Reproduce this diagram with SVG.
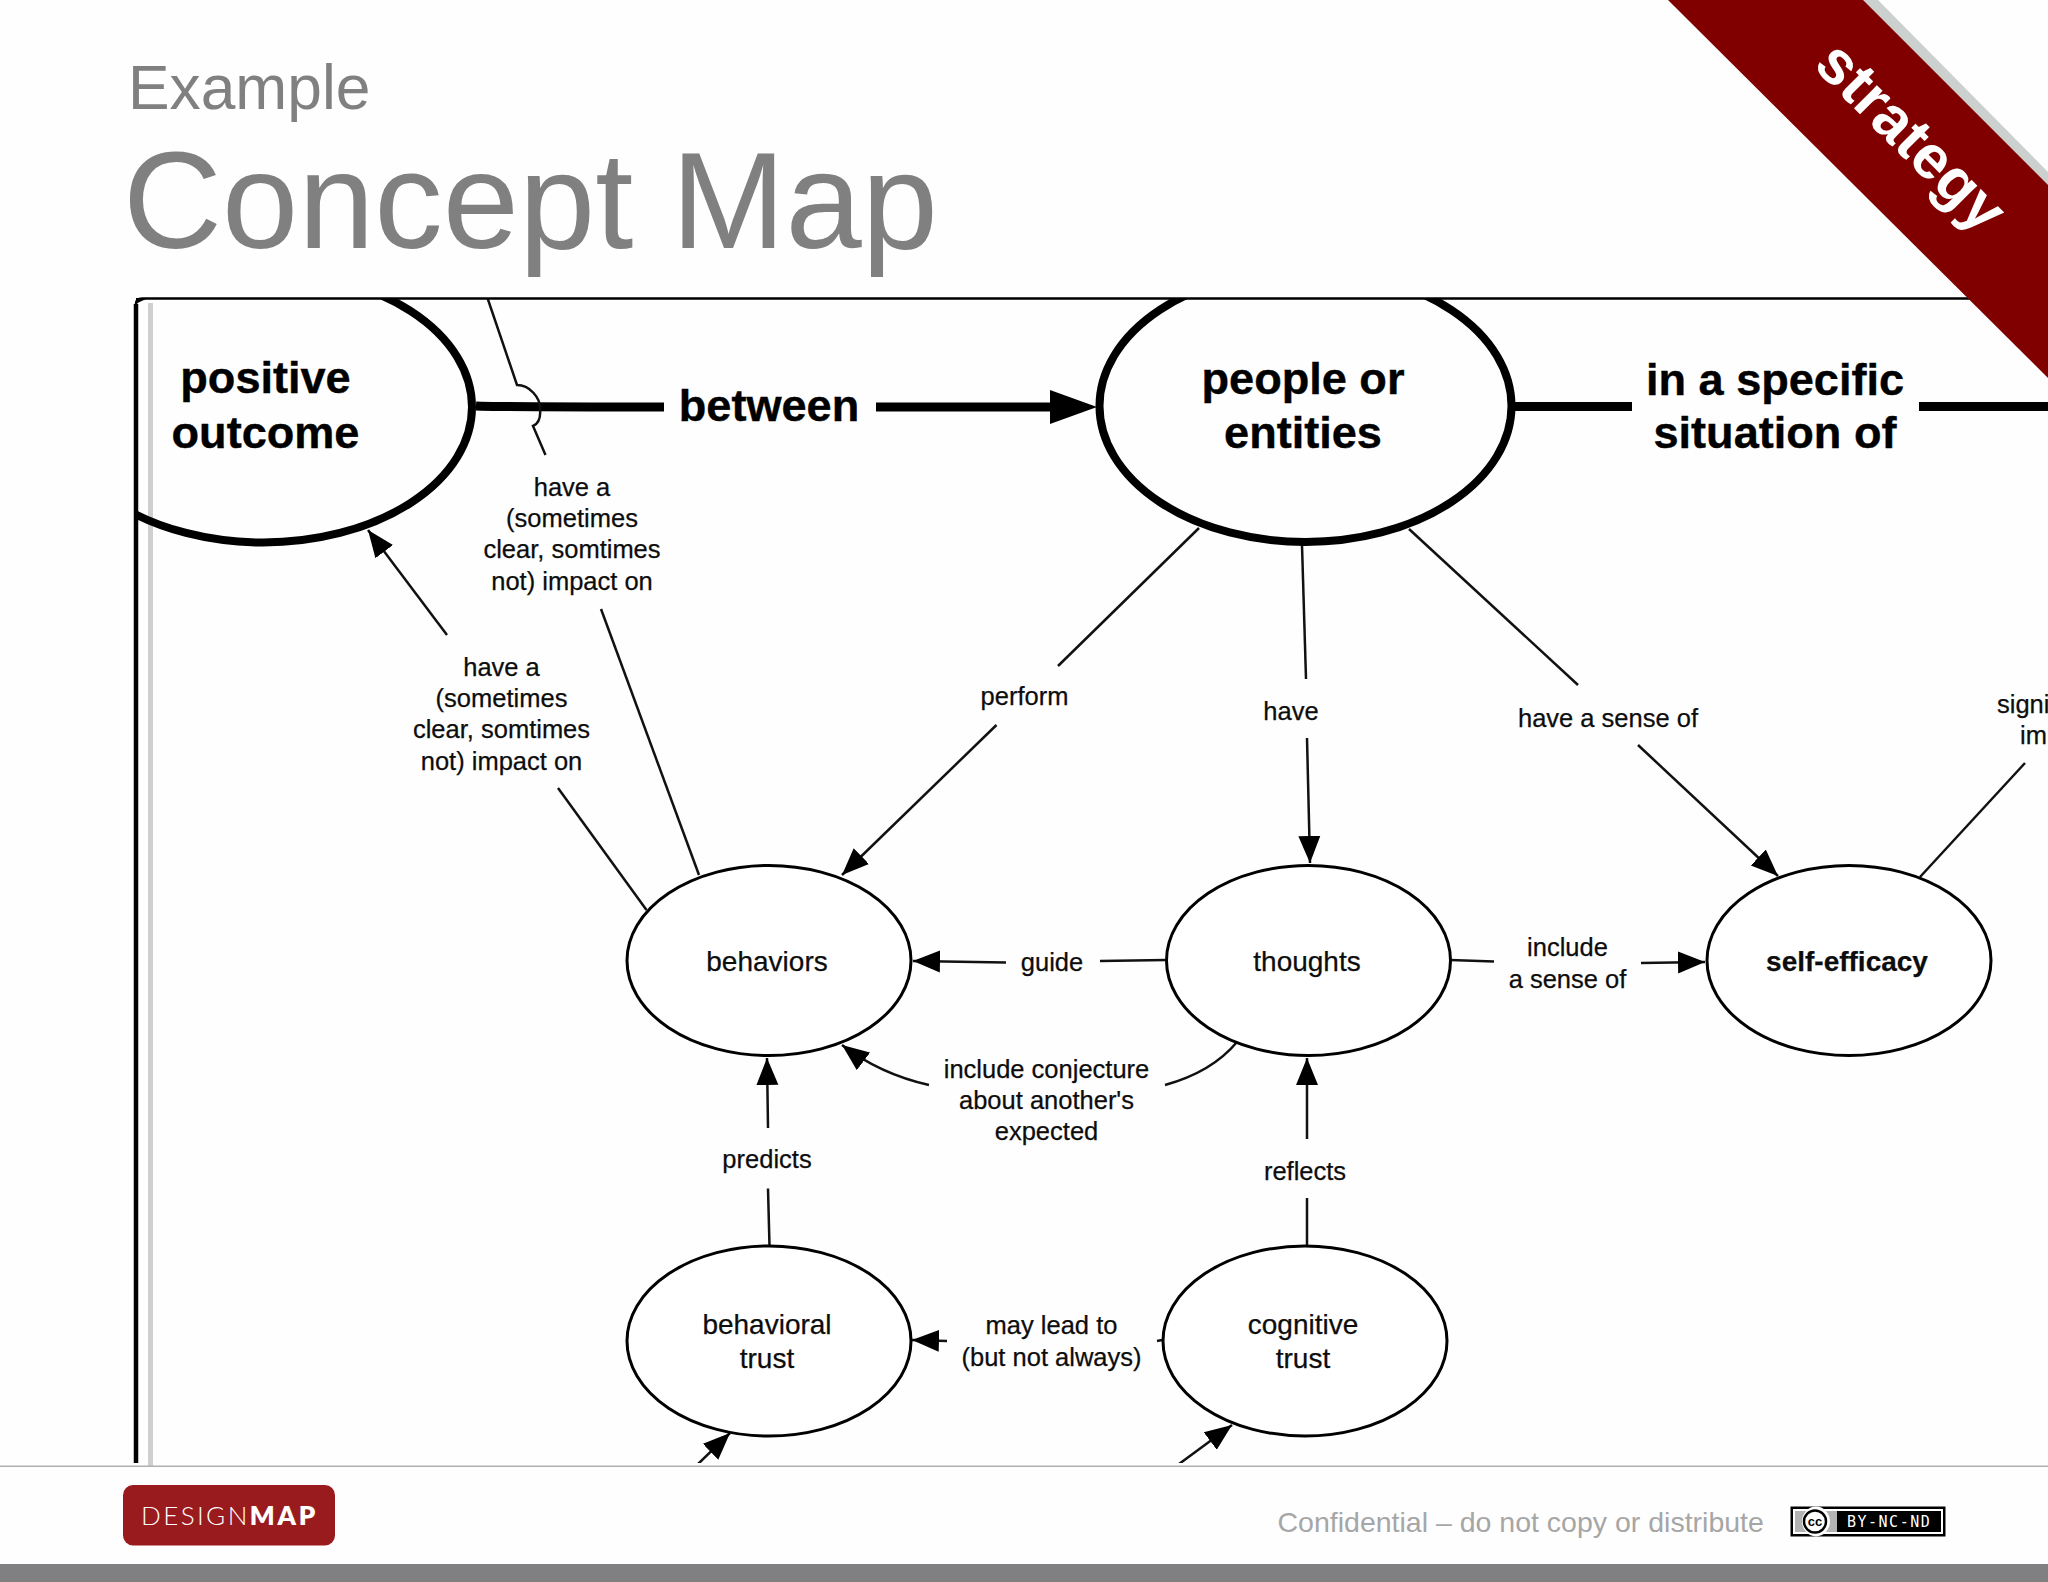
<svg xmlns="http://www.w3.org/2000/svg" width="2048" height="1582" viewBox="0 0 2048 1582">
<style>
text{font-family:"Liberation Sans",Arial,sans-serif;fill:#0d0d0d}
.lb{font-size:25.5px;text-anchor:middle;stroke:#0d0d0d;stroke-width:.25}
.n{font-size:28px;text-anchor:middle;stroke:#0d0d0d;stroke-width:.25}
.big{font-size:45.100px;font-weight:700;text-anchor:middle;fill:#000;stroke:#000;stroke-width:.4}
.e{fill:#fff;stroke:#000;stroke-width:3}
.E{fill:none;stroke:#000;stroke-width:8}
.c{fill:none;stroke:#111;stroke-width:2.500}
.a{marker-end:url(#h)}
.T{fill:none;stroke:#000;stroke-width:9}
</style>
<defs>
<marker id="h" markerUnits="userSpaceOnUse" markerWidth="28" markerHeight="24" refX="27" refY="12" orient="auto"><path d="M0,1 L27,12 L0,23 Z" fill="#000"/></marker>
<clipPath id="f"><rect x="136" y="298" width="1912" height="1165"/></clipPath>
</defs>
<rect width="2048" height="1582" fill="#fefefe"/>
<g id="title">
<text x="128" y="109" font-size="62.300" style="fill:#808080">Example</text>
<text x="123" y="248" font-size="137" style="fill:#808080">Concept Map</text>
</g>
<rect x="148" y="303" width="5" height="1163" fill="#cfcfcf"/>
<g clip-path="url(#f)">
<g id="connectors">
<path class="T" d="M476,406 Q500,407 664,407"/>
<path class="T" d="M876,407 H1060"/>
<path d="M1050,390 L1097,407 L1050,424 Z" fill="#000"/>
<path class="T" d="M1513,406.500 H1632"/>
<path class="T" d="M1919,406.500 H2048"/>
<path class="c" d="M487.500,298 L517,385 C530,385 540,398 540,408 C541,418 538,424 533,426 L545.500,455"/>
<path class="c" d="M601,609 L699,875"/>
<path class="c a" d="M447,635 L368,530"/>
<path class="c" d="M558,788 L646.500,910"/>
<path class="c" d="M1199,528 L1058,666"/>
<path class="c a" d="M996.500,725 L842,875"/>
<path class="c" d="M1302,545 L1306,679"/>
<path class="c a" d="M1307,738 L1310,863"/>
<path class="c" d="M1409,529 L1578,685"/>
<path class="c a" d="M1638,745 L1778,876"/>
<path class="c" d="M2025,763 L1920,877"/>
<path class="c" d="M1450,960 L1494,961.500"/>
<path class="c a" d="M1641,963 L1705,962"/>
<path class="c" d="M1166,960 L1100,961"/>
<path class="c a" d="M1006,962.500 L913,961"/>
<path class="c" d="M1237,1042 Q1212,1072 1165,1085"/>
<path class="c a" d="M929,1085 Q880,1074 842,1045"/>
<path class="c" d="M769.500,1246 L768,1188.500"/>
<path class="c a" d="M768,1128 L767,1058"/>
<path class="c" d="M1307,1246 V1198"/>
<path class="c a" d="M1307,1139 V1058"/>
<path class="c" d="M1162,1340 L1157,1341"/>
<path class="c a" d="M947,1341 L912,1340"/>
<path class="c a" d="M698,1464 L730,1433"/>
<path class="c a" d="M1179,1464 L1232,1425"/>
<text class="big" x="769" y="421">between</text>
<text class="big" x="1775" y="395">in a specific</text>
<text class="big" x="1775" y="448">situation of</text>
<text class="lb" x="572" y="496">have a</text>
<text class="lb" x="572" y="527">(sometimes</text>
<text class="lb" x="572" y="558">clear, somtimes</text>
<text class="lb" x="572" y="589.500">not) impact on</text>
<text class="lb" x="501.500" y="676">have a</text>
<text class="lb" x="501.500" y="707">(sometimes</text>
<text class="lb" x="501.500" y="738">clear, somtimes</text>
<text class="lb" x="501.500" y="769.500">not) impact on</text>
<text class="lb" x="1024.500" y="705">perform</text>
<text class="lb" x="1291" y="720">have</text>
<text class="lb" x="1608" y="727">have a sense of</text>
<text x="1997" y="713" font-size="25.500" stroke="#0d0d0d" stroke-width=".25">signi</text>
<text x="2020" y="744" font-size="25.500" stroke="#0d0d0d" stroke-width=".25">im</text>
<text class="lb" x="1052" y="971">guide</text>
<text class="lb" x="1567.500" y="956">include</text>
<text class="lb" x="1567.500" y="988">a sense of</text>
<text class="lb" x="1046.500" y="1078">include conjecture</text>
<text class="lb" x="1046.500" y="1109">about another's</text>
<text class="lb" x="1046.500" y="1139.500">expected</text>
<text class="lb" x="767" y="1168">predicts</text>
<text class="lb" x="1305" y="1180">reflects</text>
<text class="lb" x="1051.500" y="1334">may lead to</text>
<text class="lb" x="1051.500" y="1366">(but not always)</text>
</g>
<g id="node-positive-outcome"><ellipse class="E" cx="263" cy="407" rx="209" ry="135.500"/>
<text class="big" x="265.500" y="393">positive</text><text class="big" x="265.500" y="448">outcome</text></g>
<g id="node-people"><ellipse class="E" cx="1305.500" cy="406" rx="206" ry="136"/>
<text class="big" x="1303" y="394">people or</text><text class="big" x="1303" y="448">entities</text></g>
<g id="node-behaviors"><ellipse class="e" cx="769" cy="960.500" rx="142" ry="95"/>
<text class="n" x="767" y="971">behaviors</text></g>
<g id="node-thoughts"><ellipse class="e" cx="1308.500" cy="960.500" rx="142" ry="95"/>
<text class="n" x="1307" y="971">thoughts</text></g>
<g id="node-self-efficacy"><ellipse class="e" cx="1849" cy="960.500" rx="142" ry="95"/>
<text class="n" x="1847" y="971" font-weight="700">self-efficacy</text></g>
<g id="node-behavioral-trust"><ellipse class="e" cx="769" cy="1341" rx="142" ry="95"/>
<text class="n" x="767" y="1334">behavioral</text><text class="n" x="767" y="1368">trust</text></g>
<g id="node-cognitive-trust"><ellipse class="e" cx="1305" cy="1341" rx="142" ry="95"/>
<text class="n" x="1303" y="1334">cognitive</text><text class="n" x="1303" y="1368">trust</text></g>
</g>
<path d="M136,1463 V304 Q136,298.500 142,298.500 H1980" fill="none" stroke="#000" stroke-width="2.500"/>
<path d="M136,1463 V304" fill="none" stroke="#000" stroke-width="4.500"/>
<g id="ribbon">
<polygon points="1860,0 1878,0 2048,172 2048,190" fill="#ccd0cf"/>
<polygon points="1668,0 1863,0 2048,185 2048,378" fill="#800000"/>
<text transform="translate(1911,137) rotate(45)" text-anchor="middle" y="20" font-size="61.500" font-weight="700" style="fill:#fff">strategy</text>
</g>
<g id="footer">
<rect y="1465.500" width="2048" height="1.500" fill="#b0b0b0"/>
<rect y="1564" width="2048" height="18" fill="#807f81"/>
<rect x="123" y="1485" width="212" height="60.500" rx="10" fill="#991b1e"/>
<text x="141" y="1525" font-size="26" style="font-family:Lato,sans-serif;fill:#fff;font-weight:300;letter-spacing:2.400px">DESIGN<tspan font-weight="800" style="letter-spacing:2.800px">MAP</tspan></text>
<text x="1277.500" y="1532" font-size="28.500" style="fill:#a6a6a6">Confidential – do not copy or distribute</text>
<rect x="1790.500" y="1506.500" width="155" height="30" fill="#000"/>
<rect x="1793" y="1509" width="150" height="25" fill="#fff"/>
<rect x="1795" y="1511" width="146" height="21" fill="#000"/>
<rect x="1795" y="1511" width="42" height="21" fill="#b3b3b3"/>
<ellipse cx="1816" cy="1521.500" rx="14" ry="15" fill="#fff"/>
<circle cx="1815" cy="1521.500" r="11" fill="#fff" stroke="#000" stroke-width="2.500"/>
<text x="1815" y="1526" font-size="13" font-weight="700" text-anchor="middle" style="fill:#000">cc</text>
<text x="1847" y="1527" font-size="15" style="font-family:'DejaVu Sans Mono',monospace;fill:#fff;letter-spacing:1.500px">BY-NC-ND</text>
</g>
</svg>
